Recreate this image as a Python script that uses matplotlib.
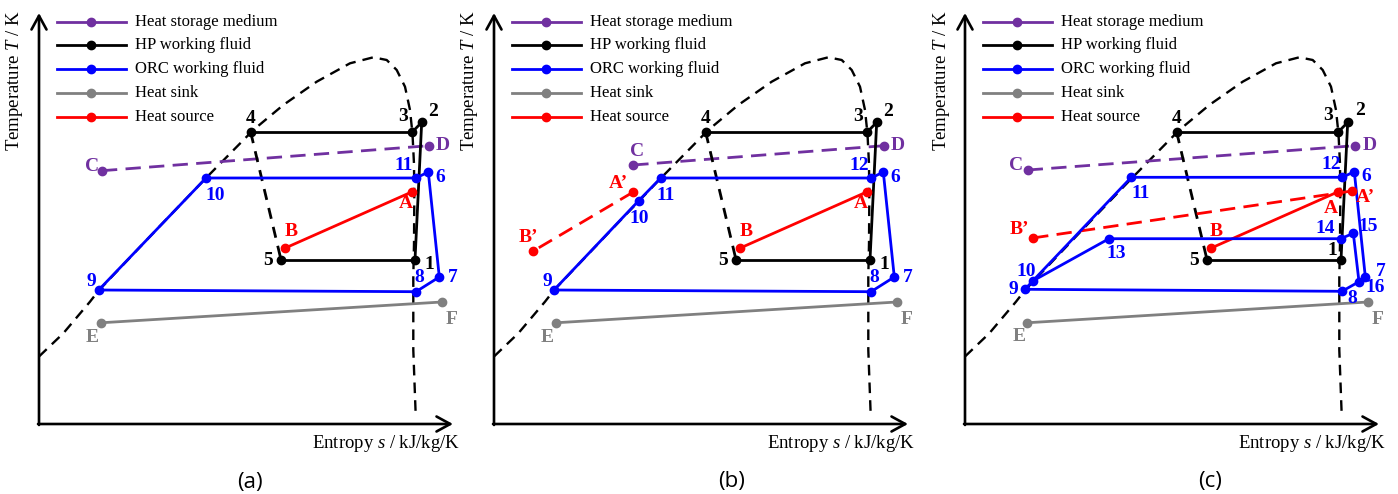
import matplotlib
matplotlib.use('Agg')
import matplotlib.pyplot as plt

plt.rcParams['font.family'] = ['Liberation Serif', 'DejaVu Serif']
plt.rcParams['mathtext.fontset'] = 'custom'
plt.rcParams['mathtext.rm'] = 'Liberation Serif'
plt.rcParams['mathtext.it'] = 'Liberation Serif:italic'

# ---------------- data (entropy s, temperature T, arbitrary units) -------------
dome_s = [0, 24.3, 51, 59.7, 120, 167, 214.3, 244.3, 277.7, 311, 334.3, 347.7, 357.7, 366, 371,
          373.5, 375, 375.3, 375, 374.3, 374.3, 376.7]
dome_T = [67.5, 90.7, 122.3, 133.5, 197, 246, 294, 319, 342.3, 360.7, 366.7, 364, 354, 337.3, 314,
          290, 260, 224, 180, 147.3, 74, 9]

hp_labels = ['1', '2', '3', '4', '5']
hp_s = [376.0, 382.7, 373.0, 211.7, 242.0]
hp_T = [164.3, 301.7, 291.7, 291.7, 164.3]

storage_labels = ['C', 'D']
storage_s = {'a': [63.0, 390.0], 'b': [139.3, 390.0], 'c': [62.7, 390.0]}
storage_T = {'a': [253.3, 278.3], 'b': [259.0, 278.3], 'c': [254.0, 278.3]}

sink_labels = ['E', 'F']
sink_s = [61.7, 403.0]
sink_T = [101.2, 122.0]

source_labels = ['A', 'B']
source_s = [373.3, 246.3]
source_T = [232.3, 176.0]
source2_labels = ["A\u2019", "B\u2019"]
source2_s = {'b': [139.3, 39.3], 'c': [387.0, 67.7]}
source2_T = {'b': [232.0, 173.0], 'c': [233.0, 186.0]}

orc_labels_a = ['6', '7', '8', '9', '10', '11']
orc_s_a = [389.3, 400.3, 377.0, 59.7, 167.0, 377.0]
orc_T_a = [252.0, 147.0, 132.3, 134.0, 246.0, 246.0]

orc_labels_b = ['6', '7', '8', '9', '10', '11', '12']
orc_s_b = [389.3, 400.3, 377.0, 60.0, 144.7, 166.7, 377.3]
orc_T_b = [252.0, 147.0, 132.3, 134.0, 223.3, 246.0, 246.0]

orc_labels_c = ['6', '7', '8', '9', '10', '11', '12', '13', '14', '15', '16']
orc_s_c = [389.3, 400.3, 377.0, 60.0, 67.7, 166.3, 377.3, 144.0, 375.7, 388.3, 394.0]
orc_T_c = [252.3, 147.3, 132.7, 134.7, 143.0, 246.7, 246.7, 185.3, 185.3, 190.7, 142.3]

legend_labels = ['Heat storage medium', 'HP working fluid', 'ORC working fluid', 'Heat sink', 'Heat source']
panel_captions = ['(a)', '(b)', '(c)']

# ---------------- styles ----------------
PURPLE = '#7030A0'
BLUE = '#0000FF'
GRAY = '#808080'
RED = '#FF0000'
BLACK = '#000000'
legend_colors = [PURPLE, BLACK, BLUE, GRAY, RED]
LW = 2.0
MS = 6

W, H = 1398, 494
fig = plt.figure(figsize=(W / 100, H / 100), dpi=100)
origins = [39, 494, 965]

# orc paths (by label)
orc_paths = {
    'a': [['9', '10', '11', '6', '7', '8', '9']],
    'b': [['9', '10', '11', '12', '6', '7', '8', '9']],
    'c': [['9', '10', '11', '12', '6', '7', '16', '8', '9'], ['10', '13', '14', '15', '16']],
}
orc_data = {
    'a': (orc_labels_a, orc_s_a, orc_T_a),
    'b': (orc_labels_b, orc_s_b, orc_T_b),
    'c': (orc_labels_c, orc_s_c, orc_T_c),
}

# label offsets (pixels) per panel
common_off = {'1': (14, -5), '2': (11, 11), '3': (-9, 16), '4': (0, 14), '5': (-13, -1),
              'D': (14, 0), 'E': (-9, -15), 'F': (10, -18), 'A': (-6, -12), 'B': (6, 16),
              '6': (12, -6), '7': (13, 0), '8': (3, 14)}
offsets = {
    'a': dict(common_off, **{'C': (-10, 4), '9': (-7, 8), '10': (9, -17), '11': (-12, 13)}),
    'b': dict(common_off, **{'C': (4, 13), '9': (-7, 8), '10': (0, -18), '11': (5, -18), '12': (-12, 13),
                             "A\u2019": (-15, 9), "B\u2019": (-5, 13)}),
    'c': dict(common_off, **{'C': (-12, 4), '9': (-12, 0), '10': (-7, 10), '11': (9, -16), '12': (-11, 13),
                             '13': (7, -15), '14': (-16, 10), '15': (15, 7), '16': (16, -6),
                             '7': (15, 5), '8': (10, -7), '1': (-9, 9), '3': (-10, 17), '2': (12, 12),
                             'A': (-7, -17), "A\u2019": (13, -6), "B\u2019": (-13, 8), 'B': (5, 17),
                             'D': (15, 0), '6': (12, -5), 'E': (-8, -14)}),
}

LABEL_FS = 14


def lab(ax, key, s, T, color, off):
    dx, dy = off.get(key, (0, 12))
    ax.text(s + dx, T + dy, key, color=color, fontsize=LABEL_FS, fontweight='bold',
            ha='center', va='center', clip_on=False, zorder=6)


for pi, (panel, ox) in enumerate(zip(['a', 'b', 'c'], origins)):
    ax = fig.add_axes([ox / W, 70 / H, 414 / W, 411 / H])
    ax.set_xlim(0, 414)
    ax.set_ylim(0, 411)
    ax.axis('off')
    off = offsets[panel]

    # axes arrows
    arrow = dict(arrowstyle='->,head_length=0.55,head_width=0.3', lw=1.9, color='k',
                 shrinkA=0, shrinkB=0, mutation_scale=18)
    ax.annotate('', xy=(414, 0), xytext=(-1, 0), arrowprops=arrow, annotation_clip=False)
    ax.annotate('', xy=(0, 411), xytext=(0, -1), arrowprops=arrow, annotation_clip=False)

    # saturation dome
    ax.plot(dome_s, dome_T, color='k', lw=1.7, ls=(0, (4.5, 3)), clip_on=False, zorder=1)

    # heat sink
    ax.plot(sink_s, sink_T, color=GRAY, lw=LW, marker='o', ms=MS, zorder=3)
    for k, s, T in zip(sink_labels, sink_s, sink_T):
        lab(ax, k, s, T, GRAY, off)

    # heat storage medium
    ax.plot(storage_s[panel], storage_T[panel], color=PURPLE, lw=LW, ls=(0, (5.5, 3)), zorder=3)
    ax.plot(storage_s[panel], storage_T[panel], color=PURPLE, lw=0, marker='o', ms=MS, zorder=4)
    for k, s, T in zip(storage_labels, storage_s[panel], storage_T[panel]):
        lab(ax, k, s, T, PURPLE, off)

    # HP cycle
    hp = dict(zip(hp_labels, zip(hp_s, hp_T)))
    for a_, b_ in [('1', '2'), ('2', '3'), ('3', '4'), ('5', '1')]:
        ax.plot([hp[a_][0], hp[b_][0]], [hp[a_][1], hp[b_][1]], color='k', lw=LW, zorder=3)
    ax.plot([hp['4'][0], hp['5'][0]], [hp['4'][1], hp['5'][1]], color='k', lw=LW,
            ls=(0, (4, 3)), zorder=3)
    ax.plot(hp_s, hp_T, lw=0, marker='o', ms=MS, color='k', zorder=4)
    for k, s, T in zip(hp_labels, hp_s, hp_T):
        lab(ax, k, s, T, BLACK, off)

    # heat source
    if panel in source2_s:
        s2, T2 = source2_s[panel], source2_T[panel]
        ax.plot(s2, T2, color=RED, lw=LW, ls=(0, (5.5, 3)), zorder=3)
        ax.plot(s2, T2, lw=0, marker='o', ms=MS, color=RED, zorder=5)
        for k, s, T in zip(source2_labels, s2, T2):
            lab(ax, k, s, T, RED, off)
    ax.plot(source_s, source_T, color=RED, lw=LW, marker='o', ms=MS, zorder=3)
    for k, s, T in zip(source_labels, source_s, source_T):
        lab(ax, k, s, T, RED, off)

    # ORC
    labels, ss, TT = orc_data[panel]
    orc = dict(zip(labels, zip(ss, TT)))
    for path in orc_paths[panel]:
        ax.plot([orc[k][0] for k in path], [orc[k][1] for k in path], color=BLUE, lw=LW, zorder=4)
    ax.plot(ss, TT, lw=0, marker='o', ms=MS, color=BLUE, zorder=5)
    for k, s, T in zip(labels, ss, TT):
        lab(ax, k, s, T, BLUE, off)

    # legend (drawn manually)
    rows = [402.3, 379.0, 354.7, 330.7, 307.3]
    for txt, col, yT in zip(legend_labels, legend_colors, rows):
        ax.plot([17.7, 87], [yT, yT], color=col, lw=LW, clip_on=False)
        ax.plot([52], [yT], color=col, marker='o', ms=MS, clip_on=False)
        ax.text(96, yT, txt, fontsize=12, ha='left', va='center')

    # axis labels
    ax.text(421, -19, 'Entropy $s$ / kJ/kg/K', fontsize=13.5, ha='right', va='center', clip_on=False)
    ax.text(-24, 343, 'Temperature $T$ / K', fontsize=13.5, ha='center', va='center',
            rotation=90, clip_on=False)

cap_pos = [(250, 482), (732, 481), (1210, 481)]
for cap, (x, y) in zip(panel_captions, cap_pos):
    fig.text(x / W, 1 - y / H, cap, fontsize=16, family='Open Sans', ha='center', va='center')

fig.savefig('out.png', dpi=100)
